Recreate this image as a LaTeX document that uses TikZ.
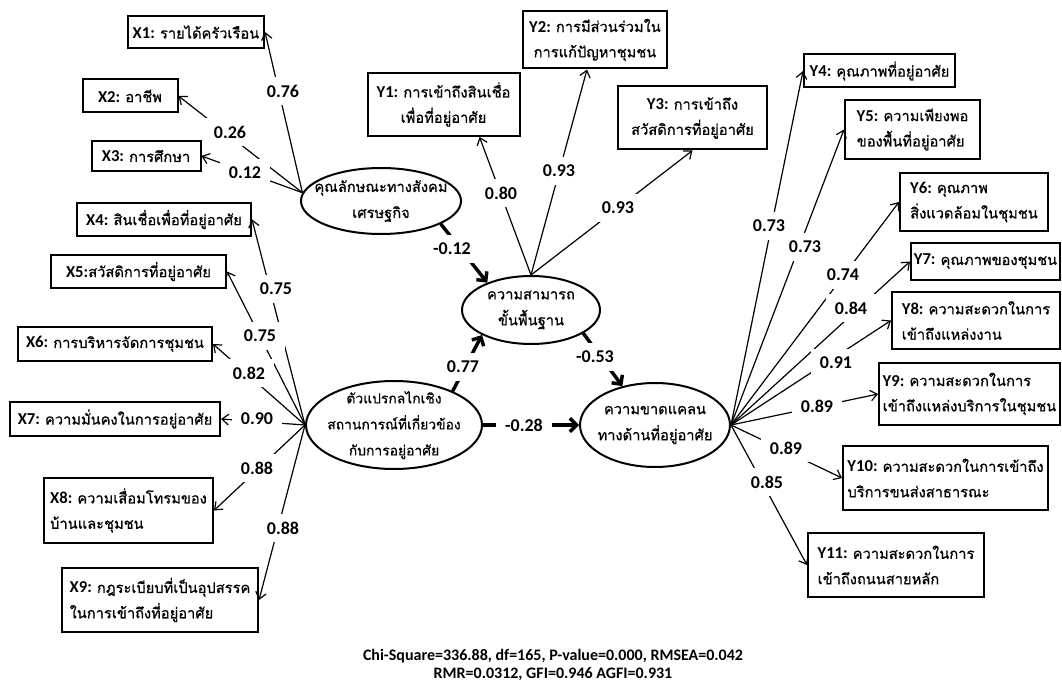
\documentclass[tikz,border=0pt]{standalone}
\usepackage{fontspec}
\setmainfont{Carlito}
\newfontfamily\thai[Script=Thai,FakeBold=0.8]{Loma}
\usetikzlibrary{arrows.meta,calc,shapes.geometric}
% bold Latin prefix (variable code) inside Thai text
\newcommand\vname[1]{{\normalfont\bfseries\fontsize{12.5}{19}\selectfont #1}}

\begin{document}
\begin{tikzpicture}[x=0.75pt,y=-0.75pt,
  ind/.style={draw, line width=1.5pt, inner sep=0pt,
    font=\thai\fontsize{11}{19}\selectfont, align=left},
  indc/.style={ind, align=center},
  lat/.style={draw, ellipse, line width=1.5pt, inner sep=0pt},
  lattext/.style={font=\thai\fontsize{11}{19.5}\selectfont, align=center, inner sep=0pt},
  load/.style={line width=0.9pt, -{Straight Barb[length=5pt,width=8pt]}},
  spath/.style={line width=2.6pt, -{Straight Barb[length=5pt,width=10pt]}},
  coef/.style={fill=white, font=\bfseries\fontsize{13.5}{14}\selectfont,
    inner xsep=7pt, inner ysep=6pt},
  fit/.style={font=\bfseries\fontsize{12}{14}\selectfont, align=center}
]
\useasboundingbox (0,0) rectangle (1062,684);

% latent variables
\node[lat, minimum width=120pt, minimum height=49.5pt,
  label={[lattext]center:คุณลักษณะทางสังคม\\เศรษฐกิจ}] (L1) at (381,201) {};
\node[lat, minimum width=103.5pt, minimum height=51pt,
  label={[lattext]center:ความสามารถ\\ขั้นพื้นฐาน}] (L2) at (531,310) {};
\node[lat, minimum width=132pt, minimum height=66pt,
  label={[lattext, font=\thai\fontsize{10.4}{19.5}\selectfont]center:ตัวแปรกลไกเชิง\\สถานการณ์ที่เกี่ยวข้อง\\กับการอยู่อาศัย}] (L3) at (394,425) {};
\node[lat, minimum width=112.5pt, minimum height=63pt,
  label={[lattext]center:ความขาดแคลน\\ทางด้านที่อยู่อาศัย}] (L4) at (655,425) {};

% observed indicators, left side
\node[ind, minimum width=102pt, minimum height=24pt] (X1) at (196,32) {\vname{X1: }รายได้ครัวเรือน};
\node[ind, minimum width=71.25pt, minimum height=24.75pt] (X2) at (130,96) {\vname{X2: }อาชีพ};
\node[ind, minimum width=81.75pt, minimum height=22.5pt] (X3) at (146,156) {\vname{X3: }การศึกษา};
\node[ind, minimum width=130.5pt, minimum height=24.75pt] (X4) at (164,219.5) {\vname{X4: }สินเชื่อเพื่อที่อยู่อาศัย};
\node[ind, minimum width=131.25pt, minimum height=24.75pt] (X5) at (138.5,271.5) {\vname{X5:}สวัสดิการที่อยู่อาศัย};
\node[ind, minimum width=145.5pt, minimum height=25.5pt] (X6) at (115,344) {\vname{X6: }การบริหารจัดการชุมชน};
\node[ind, minimum width=157.5pt, minimum height=25.5pt] (X7) at (115,419) {\vname{X7: }ความมั่นคงในการอยู่อาศัย};
\node[ind, minimum width=126.75pt, minimum height=48.75pt] (X8) at (128.5,510.5) {\vname{X8: }ความเสื่อมโทรมของ\\บ้านและชุมชน};
\node[ind, minimum width=147pt, minimum height=48pt] (X9) at (160,600) {\vname{X9: }กฎระเบียบที่เป็นอุปสรรค\\ในการเข้าถึงที่อยู่อาศัย};

% observed indicators, top
\node[indc, minimum width=114pt, minimum height=47.25pt] (Y1) at (443.5,104.5) {\vname{Y1: }การเข้าถึงสินเชื่อ\\เพื่อที่อยู่อาศัย};
\node[indc, minimum width=108pt, minimum height=42.75pt] (Y2) at (595,40) {\vname{Y2: }การมีส่วนร่วมใน\\การแก้ปัญหาชุมชน};
\node[indc, minimum width=111.75pt, minimum height=47.25pt] (Y3) at (692.5,118) {\vname{Y3: }การเข้าถึง\\สวัสดิการที่อยู่อาศัย};

% observed indicators, right side
\node[ind, minimum width=113.25pt, minimum height=24.75pt] (Y4) at (879.5,71) {\vname{Y4: }คุณภาพที่อยู่อาศัย};
\node[ind, minimum width=101.25pt, minimum height=44.25pt] (Y5) at (912.5,129.5) {\vname{Y5: }ความเพียงพอ\\ของพื้นที่อยู่อาศัย};
\node[ind, minimum width=111pt, minimum height=43.5pt] (Y6) at (974,202) {\vname{Y6: }คุณภาพ\\สิ่งแวดล้อมในชุมชน};
\node[ind, minimum width=111.75pt, minimum height=27.75pt] (Y7) at (985.5,261.5) {\vname{Y7: }คุณภาพของชุมชน};
\node[ind, minimum width=126pt, minimum height=42.75pt] (Y8) at (976,320.5) {\vname{Y8: }ความสะดวกในการ\\เข้าถึงแหล่งงาน};
\node[ind, minimum width=135.75pt, minimum height=46.5pt] (Y9) at (969.5,394) {\vname{Y9: }ความสะดวกในการ\\เข้าถึงแหล่งบริการในชุมชน};
\node[ind, minimum width=153.75pt, minimum height=48pt] (Y10) at (945.5,478) {\vname{Y10: }ความสะดวกในการเข้าถึง\\บริการขนส่งสาธารณะ};
\node[ind, minimum width=132pt, minimum height=48pt] (Y11) at (896,565) {\vname{Y11: }ความสะดวกในการ\\เข้าถึงถนนสายหลัก};

% common origins of the loading arrows
\coordinate (f1) at (L1.174);
\coordinate (f2) at (L2.north);
\coordinate (f3) at (L3.west);
\coordinate (f4) at (L4.east);

% factor loadings
\foreach \t in {X1,X2,X3} \draw[load] (f1) -- (\t.east);
\foreach \t in {X4,X5,X6,X7,X8,X9} \draw[load] (f3) -- (\t.east);
\draw[load] (f2) -- ($(Y1.south)+(36,0)$);
\draw[load] (f2) -- ($(Y2.south)+(-8,0)$);
\draw[load] (f2) -- (Y3.south);
\foreach \t in {Y4,Y5,Y6,Y7,Y8,Y9,Y10,Y11} \draw[load] (f4) -- (\t.west);

% structural paths
\draw[spath] (L1.-21) -- (L2.148);
\draw[spath] (L3.30) -- (L2.207);
\draw[spath] (L2.-24) -- (L4.130);
\draw[spath] (L3.east) -- (L4.west);

% coefficients
\node[coef] (cx1) at (283,91) {0.76};
\node[coef] (cx2) at (230,132) {0.26};
\node[coef] (cx3) at (245,173) {0.12};
\node[coef] (cx4) at (276,289) {0.75};
\node[coef] (cx5) at (260,336) {0.75};
\node[coef] (cx6) at (249,373) {0.82};
\node[coef] (cx7) at (257,419) {0.90};
\node[coef] (cx8) at (257,468) {0.88};
\node[coef] (cx9) at (283,528) {0.88};
\node[coef] (cy1) at (501,193) {0.80};
\node[coef] (cy2) at (559,171) {0.93};
\node[coef] (cy3) at (618,208) {0.93};
\node[coef] (cy4) at (769,226) {0.73};
\node[coef] (cy5) at (805,247) {0.73};
\node[coef] (cy6) at (843,275) {0.74};
\node[coef] (cy7) at (851,308) {0.84};
\node[coef] (cy8) at (836,363) {0.91};
\node[coef] (cy9) at (817,406) {0.89};
\node[coef] (cy10) at (786,448) {0.89};
\node[coef] (cy11) at (767,482) {0.85};
\node[coef] (b12) at (452,249) {-0.12};
\node[coef] (b32) at (463,367) {0.77};
\node[coef] (b24) at (595,357) {-0.53};
\node[coef] (b34) at (524,425) {-0.28};

% fit statistics
\node[fit] (stats) at (553,665) {Chi-Square=336.88, df=165, P-value=0.000, RMSEA=0.042\\RMR=0.0312, GFI=0.946 AGFI=0.931};
\end{tikzpicture}
\end{document}
